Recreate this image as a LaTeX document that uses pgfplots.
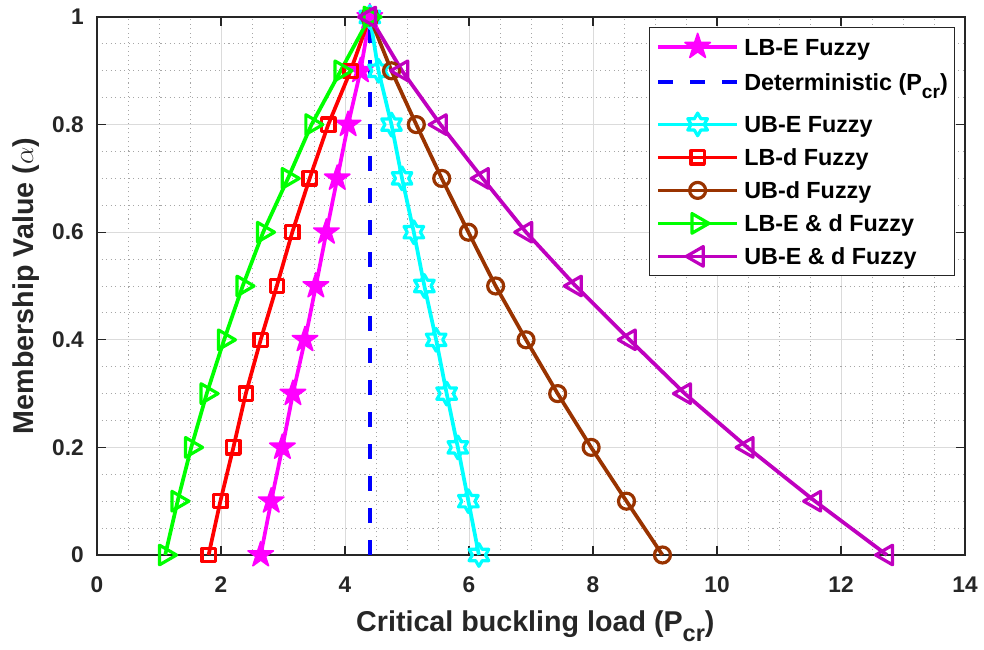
\documentclass[border=0pt]{standalone}
\usepackage{fontspec}
\setmainfont{Liberation Sans}
\usepackage{graphicx}
\usepackage{pgfplots}
\pgfplotsset{compat=1.18}

\definecolor{mybrown}{rgb}{0.6,0.2,0}
\definecolor{mypurple}{rgb}{0.75,0,0.75}
\definecolor{mymagenta}{rgb}{1,0,1}
\definecolor{mycyan}{rgb}{0,1,1}
\definecolor{mygreen}{rgb}{0,1,0}
\definecolor{myred}{rgb}{1,0,0}
\definecolor{myblue}{rgb}{0,0,1}
\definecolor{axgray}{rgb}{0.15,0.15,0.15}

\newcommand{\lsub}[1]{\raisebox{-0.35em}{\scalebox{0.82}{#1}}}
\newcommand{\rs}{\hspace*{4pt}\rule[-6.1pt]{0pt}{24.75pt}}
\newcommand{\rsd}{\hspace*{4pt}\rule[-13.35pt]{0pt}{33.55pt}}

\pgfdeclareplotmark{pentagram}{%
  \pgfpathmoveto{\pgfpointpolar{90}{\pgfplotmarksize}}%
  \pgfpathlineto{\pgfpointpolar{126}{0.382\pgfplotmarksize}}%
  \pgfpathlineto{\pgfpointpolar{162}{\pgfplotmarksize}}%
  \pgfpathlineto{\pgfpointpolar{198}{0.382\pgfplotmarksize}}%
  \pgfpathlineto{\pgfpointpolar{234}{\pgfplotmarksize}}%
  \pgfpathlineto{\pgfpointpolar{270}{0.382\pgfplotmarksize}}%
  \pgfpathlineto{\pgfpointpolar{306}{\pgfplotmarksize}}%
  \pgfpathlineto{\pgfpointpolar{342}{0.382\pgfplotmarksize}}%
  \pgfpathlineto{\pgfpointpolar{18}{\pgfplotmarksize}}%
  \pgfpathlineto{\pgfpointpolar{54}{0.382\pgfplotmarksize}}%
  \pgfpathclose
  \pgfusepathqfillstroke
}
\pgfdeclareplotmark{hexagram}{%
  \pgfpathmoveto{\pgfpointpolar{90}{\pgfplotmarksize}}%
  \pgfpathlineto{\pgfpointpolar{120}{0.577\pgfplotmarksize}}%
  \pgfpathlineto{\pgfpointpolar{150}{\pgfplotmarksize}}%
  \pgfpathlineto{\pgfpointpolar{180}{0.577\pgfplotmarksize}}%
  \pgfpathlineto{\pgfpointpolar{210}{\pgfplotmarksize}}%
  \pgfpathlineto{\pgfpointpolar{240}{0.577\pgfplotmarksize}}%
  \pgfpathlineto{\pgfpointpolar{270}{\pgfplotmarksize}}%
  \pgfpathlineto{\pgfpointpolar{300}{0.577\pgfplotmarksize}}%
  \pgfpathlineto{\pgfpointpolar{330}{\pgfplotmarksize}}%
  \pgfpathlineto{\pgfpointpolar{0}{0.577\pgfplotmarksize}}%
  \pgfpathlineto{\pgfpointpolar{30}{\pgfplotmarksize}}%
  \pgfpathlineto{\pgfpointpolar{60}{0.577\pgfplotmarksize}}%
  \pgfpathclose
  \pgfusepathqstroke
}

\pgfplotstableread{
alpha LBE  UBE  LBd  UBd  LBEd  UBEd
0.0   2.64 6.16 1.80 9.12 1.10 12.74
0.1   2.81 5.99 1.99 8.54 1.30 11.58
0.2   2.99 5.82 2.20 7.97 1.52 10.49
0.3   3.16 5.64 2.40 7.43 1.77 9.48
0.4   3.355 5.47 2.64 6.92 2.05 8.59
0.5   3.53 5.28 2.90 6.43 2.35 7.72
0.6   3.70 5.11 3.15 5.99 2.68 6.92
0.7   3.875 4.92 3.43 5.56 3.08 6.22
0.8   4.05 4.75 3.73 5.15 3.46 5.54
0.9   4.25 4.54 4.09 4.75 3.93 4.92
1.0   4.40 4.40 4.40 4.40 4.40 4.40
}\datatable

\begin{document}
\begin{tikzpicture}
\begin{axis}[
  scale only axis, width=651pt, height=403.5pt,
  xmin=0, xmax=14, ymin=0, ymax=1,
  xtick={0,2,4,6,8,10,12,14},
  ytick={0,0.2,0.4,0.6,0.8,1},
  yticklabels={0,0.2,0.4,0.6,0.8,1},
  minor x tick num=3, minor y tick num=3,
  grid=both,
  major grid style={color=black!14, line width=0.6pt},
  minor grid style={color=black!35, line width=0.6pt, dash pattern=on 0.8pt off 2.6pt},
  axis line style={color=axgray, line width=1pt},
  tick style={color=axgray, line width=1pt},
  major tick length=7pt, minor tick length=0pt,
  tick align=inside,
  xtick pos=both, ytick pos=both,
  clip=false,
  /pgf/number format/assume math mode=true,
  tick label style={font=\bfseries\fontsize{17}{20}\selectfont, text=axgray},
  xticklabel style={anchor=north, inner sep=0pt, yshift=-16.3pt},
  yticklabel style={anchor=east, inner sep=0pt, xshift=-9.75pt},
  xlabel={Critical buckling load (P\lsub{cr})},
  xlabel style={at={(axis description cs:0.505,-0.1425)}, anchor=base, inner sep=0pt,
    font=\bfseries\fontsize{21.5}{24}\selectfont, text=axgray},
  ylabel={Membership Value ($\alpha$)},
  ylabel style={at={(axis description cs:-0.0737,0.5)}, anchor=base, inner sep=0pt,
    font=\bfseries\fontsize{21.5}{24}\selectfont, text=axgray},
  legend cell align=left,
  legend image code/.code={\draw[mark repeat=2,mark phase=2] plot coordinates {(0pt,6.3pt) (29.5pt,6.3pt) (59pt,6.3pt)};},
  legend style={at={(axis description cs:1,1)}, anchor=north east, xshift=-7.5pt, yshift=-7.5pt,
    draw=axgray, line width=0.8pt, fill=white, inner xsep=5pt, inner ysep=2pt,
    font=\bfseries\fontsize{17.5}{20}\selectfont,
    nodes={inner sep=0pt, text depth={}, text height={}},
    cells={anchor=base west},
    column sep=0pt, row sep=0pt},
  every axis plot/.append style={line width=2.8pt, line join=round},
  every mark/.append style={solid},
]
\addplot[mymagenta, mark=pentagram, mark size=10pt, mark options={fill=mymagenta, line width=1.2pt}] table[x=LBE, y=alpha] {\datatable};
\addlegendentry{\rs LB-E Fuzzy}
\addplot[myblue, line width=3pt, dash pattern=on 11pt off 13pt] coordinates {(4.4,0) (4.4,1)};
\addlegendentry{\rsd Deterministic (P\lsub{cr})}
\addplot[mycyan, mark=hexagram, mark size=8.5pt, mark options={line width=2.4pt}] table[x=UBE, y=alpha] {\datatable};
\addlegendentry{\rs UB-E Fuzzy}
\addplot[myred, mark=square, mark size=5pt, mark options={line width=2.4pt}] table[x=LBd, y=alpha] {\datatable};
\addlegendentry{\rs LB-d Fuzzy}
\addplot[mybrown, mark=o, mark size=6pt, mark options={line width=2.4pt}] table[x=UBd, y=alpha] {\datatable};
\addlegendentry{\rs UB-d Fuzzy}
\addplot[mygreen, mark=triangle, mark size=8.5pt, mark options={rotate=-90, line width=2.4pt}] table[x=LBEd, y=alpha] {\datatable};
\addlegendentry{\rs LB-E \& d Fuzzy}
\addplot[mypurple, mark=triangle, mark size=8.5pt, mark options={rotate=90, line width=2.4pt}] table[x=UBEd, y=alpha] {\datatable};
\addlegendentry{\rs UB-E \& d Fuzzy}
\end{axis}
\pgfresetboundingbox
\path[use as bounding box] (-72.75pt,-70.5pt) rectangle (665.25pt,416.25pt);
\end{tikzpicture}
\end{document}
